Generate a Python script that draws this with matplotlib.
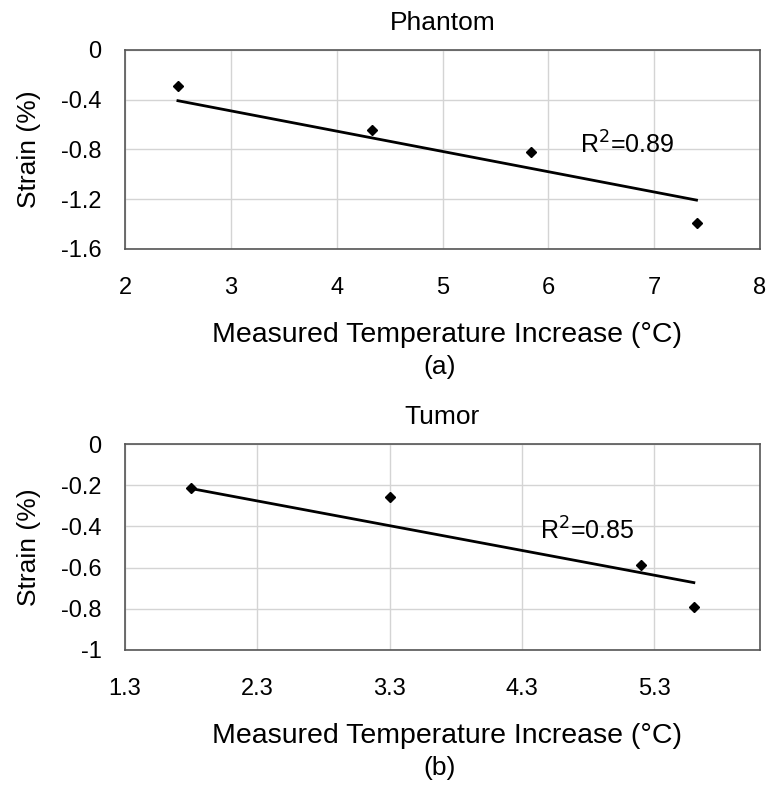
import numpy as np
import matplotlib
matplotlib.use("Agg")
import matplotlib.pyplot as plt

plt.rcParams['font.family'] = ['Liberation Sans', 'DejaVu Sans']

# ---- Phantom ----
temp_a = [2.5, 4.33, 5.84, 7.4]
strain_a = [-0.29, -0.64, -0.82, -1.39]
r2_a = "R$^2$=0.89"

# ---- Tumor ----
temp_b = [1.8, 3.3, 5.2, 5.6]
strain_b = [-0.216, -0.256, -0.589, -0.789]
r2_b = "R$^2$=0.85"

xlabel = "Measured Temperature Increase (°C)"
ylabel = "Strain (%)"

W, H = 771, 789
fig = plt.figure(figsize=(W / 100, H / 100), dpi=100)


def px_axes(left, top, right, bottom):
    return fig.add_axes([left / W, 1 - bottom / H, (right - left) / W, (bottom - top) / H])


def ftext(x, y, s, **kw):
    # place text at pixel coords (from top-left)
    return fig.text(x / W, 1 - y / H, s, ha='center', va='center', **kw)


def panel(box, x, y, xlim, ylim, xticks, yticks, ytl, title, r2, r2pos, tag):
    left, top, right, bottom = box
    ax = px_axes(*box)
    x = np.array(x)
    y = np.array(y)
    # linear trend line forced through origin
    k = np.sum(x * y) / np.sum(x * x)
    xl = np.array([x.min(), x.max()])
    ax.plot(xl, k * xl, color='black', lw=2, zorder=3)
    ax.plot(x, y, 'D', color='black', ms=5, zorder=4)
    ax.set_xlim(*xlim)
    ax.set_ylim(*ylim)
    ax.set_xticks(xticks)
    ax.set_xticklabels([f"{t:g}" for t in xticks])
    ax.set_yticks(yticks)
    ax.set_yticklabels(ytl)
    ax.grid(True, color='#d4d4d4', lw=1)
    ax.set_axisbelow(True)
    for s in ax.spines.values():
        s.set_color('#555555')
        s.set_linewidth(1.2)
    ax.tick_params(length=0, labelsize=17)
    ax.tick_params(axis='y', pad=17)
    ax.tick_params(axis='x', pad=20)
    ax.text(r2pos[0], r2pos[1], r2, fontsize=18, va='center', ha='left')

    cx = (left + right) / 2
    ftext(cx, top - 27, title, fontsize=19)
    ftext(cx + 4, bottom + 86, xlabel, fontsize=20.5)
    ftext(29, (top + bottom) / 2, ylabel, fontsize=19, rotation=90)
    ftext(cx - 3, bottom + 118, tag, fontsize=19)
    return ax


ax1 = panel((125, 50, 760, 249), temp_a, strain_a, (2, 8), (-1.6, 0),
            [2, 3, 4, 5, 6, 7, 8],
            [0, -0.4, -0.8, -1.2, -1.6], ["0", "-0.4", "-0.8", "-1.2", "-1.6"],
            "Phantom", r2_a, (6.3, -0.76), "(a)")

ax2 = panel((125, 444, 760, 650), temp_b, strain_b, (1.3, 6.1), (-1, 0),
            [1.3, 2.3, 3.3, 4.3, 5.3],
            [0, -0.2, -0.4, -0.6, -0.8, -1], ["0", "-0.2", "-0.4", "-0.6", "-0.8", "-1"],
            "Tumor", r2_b, (4.44, -0.42), "(b)")

fig.savefig("out.png", dpi=100)
